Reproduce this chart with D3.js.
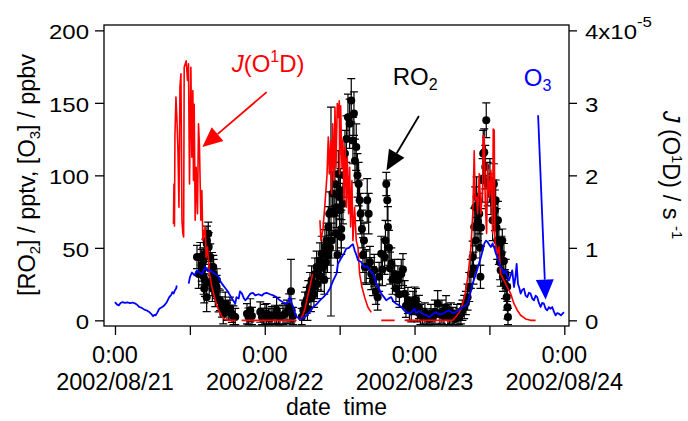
<!DOCTYPE html>
<html>
<head>
<meta charset="utf-8">
<script src="https://cdn.jsdelivr.net/npm/d3@7"></script>
<style>
  body { margin: 0; background: #fff; }
  svg { display: block; font-family: "Liberation Sans", Arial, sans-serif; }
</style>
</head>
<body>
<div id="chart"></div>
<script>
// all times are hours after 2002/08/21 0:00
// O3 in ppbv, NaN marks a gap in the record
const o3 = [
  [0.0,12.6],[0.3,11.0],[0.6,10.3],[0.9,12.0],[1.2,12.6],[1.6,12.0],[2.0,12.4],[2.4,11.9],[2.8,12.3],[3.3,11.5],
  [3.6,10.5],[3.9,9.2],[4.3,8.6],[4.7,7.4],[5.1,6.8],[5.5,5.7],[5.8,4.5],[6.1,2.8],[6.3,3.8],[6.5,3.4],
  [6.8,5.5],[7.1,8.0],[7.5,9.0],[7.9,10.3],[8.3,12.5],[8.7,16.0],[9.0,17.5],[9.2,19.5],[9.4,18.5],[9.6,20.7],
  [9.8,22.0],[9.9,24.0],[10.8,NaN],
  [11.81,25.3],[12.02,30],[12.34,33],[12.74,31],[13.14,34.5],[13.54,33],[13.94,32],[14.26,35],[14.47,36.8],[14.82,34],
  [15.27,34.5],[15.70,33],[16.07,32],[16.61,30],[16.90,27],[17.14,25.3],[17.54,23],[17.94,20.7],[18.34,18],[18.74,15],
  [19.27,11.5],[19.47,16],[19.82,15],[20.03,20],[20.35,18.4],[20.67,15],[20.87,13.8],[21.15,15],[21.68,18.4],[22.11,19],
  [22.48,17.2],[22.99,18],[23.55,17],[23.87,18.5],[24.30,19],[24.83,18],[25.36,17.2],[25.87,16],[26.43,13.8],[26.92,12.5],
  [27.51,11.5],[27.80,13],[28.04,16],[28.28,12],[28.57,9.2],[28.84,5],[29.11,2.3],[29.48,1.5],[29.91,1.2],[30.28,2],
  [30.71,3.4],[31.24,6],[31.77,9.2],[32.28,11],[32.84,13.8],[33.40,16],[33.92,18.4],[34.45,22],[34.97,27.6],[35.49,32],
  [35.73,39],[36.26,43],[36.69,46],[37.06,49.4],[37.49,50],[37.86,51.7],[38.13,52.5],[38.40,48.3],[38.69,45],[38.93,41.4],
  [39.46,40.2],[39.73,38],[40.00,36.8],[40.37,37.5],[40.81,34.5],[41.33,32.2],[41.66,29],[41.87,25.3],[42.30,22],[42.66,18.4],
  [43.10,16],[43.47,13.8],[43.82,15],[44.27,16],[44.62,13],[45.07,11.5],[45.50,10.5],[45.87,9.2],[46.30,7],[46.67,5.7],
  [47.21,4.6],[47.58,6],[48.01,8],[48.22,5],[48.70,6.5],[49.30,4.6],[49.83,3.5],[50.36,2.3],[50.87,4],[51.45,5.7],
  [51.93,4],[52.52,4.6],[53.05,6],[53.58,6.9],[54.09,5],[54.66,5.7],[55.22,7.5],[55.73,9.2],[56.26,10.3],[56.50,12],
  [56.76,16],[57.03,20],[57.31,25.3],[57.60,29],[57.84,32.2],[58.24,38],[58.64,43.7],[58.91,48],[59.17,52.9],[59.44,55],
  [59.71,54],[60.00,52],[60.24,50.6],[60.51,53],[60.77,50],[61.04,46],[61.25,43.7],[61.52,40],[61.80,36.8],[62.09,35],
  [62.32,32.2],[62.60,34.5],[62.89,30],[63.12,27.6],[63.40,31],[63.66,34.5],[63.93,23],[64.17,30],[64.36,39],[64.57,25.3],
  [64.81,22],[65.00,18.4],[65.26,21],[65.53,21.9],[65.80,17],[66.06,16],[66.33,19],[66.60,18.4],[66.86,15],[67.13,13.8],
  [67.40,17],[67.66,16],[67.93,12],[68.20,9.2],[68.46,12],[68.73,11.5],[69.00,8],[69.26,6.9],[69.53,9],[69.80,8],
  [70.06,9.2],[70.33,6],[70.60,3.4],[70.86,5],[71.13,4.6],[71.45,3.5],[71.69,4.5],[71.93,5.7]
]

// J(O1D) in units of 1e-5 s-1
const jo1d = [
  [9.37,1.33],[9.45,1.88],[9.53,1.30],[9.61,2.55],[9.77,3.08],[9.93,2.76],[10.09,2.34],[10.25,1.56],[10.41,3.22],[10.57,3.40],
  [10.73,1.38],[10.87,1.20],[11.00,1.15],[11.09,3.49],[11.41,3.58],[11.62,3.31],[11.78,3.54],[11.94,1.88],[12.16,3.49],[12.32,2.25],
  [12.48,3.17],[12.58,1.93],[12.69,2.98],[12.85,1.38],[13.01,2.11],[13.22,1.47],[13.38,2.71],[13.54,2.39],[13.76,1.38],[13.92,1.79],
  [14.08,1.10],[14.29,1.20],[14.45,1.29],[14.61,0.87],[14.82,1.01],[15.14,0.64],[15.53,0.46],[16.07,0.28],[16.61,0.14],[17.14,0.05],
  [17.68,0.01],[18.40,0],[19.40,0],[19.90,NaN],[20.30,0],[23.0,0],[26.0,0],[29.10,0],[29.40,NaN],[29.64,0],
  [30.17,0.09],[30.44,0.16],[30.97,0.37],[31.32,0.50],[31.67,0.64],[32.20,NaN],[32.84,1.38],[33.00,1.10],[33.32,1.25],[33.64,1.6],
  [33.97,2.0],[34.18,2.53],[34.34,2.02],[34.56,2.48],[34.72,1.75],[34.88,2.71],[35.09,1.93],[35.25,2.94],[35.41,2.11],[35.62,2.99],
  [35.78,2.80],[35.94,3.03],[36.00,2.02],[36.16,2.96],[36.37,2.11],[36.53,2.48],[36.69,1.66],[36.90,2.39],[37.06,1.56],[37.22,2.25],
  [37.44,1.47],[37.60,2.11],[37.76,1.29],[37.97,1.93],[38.13,1.10],[38.40,1.56],[38.66,1.10],[38.93,1.01],[39.20,0.64],[39.57,0.46],
  [40.00,0.32],[40.53,0.18],[41.06,0.11],[41.80,NaN],[42.66,0],[44.81,0],[45.50,NaN],[46.41,0],[50.0,0],[54.10,0],
  [54.63,0.05],[55.16,0.11],[55.60,0.20],[56.07,0.35],[56.55,0.60],[57.03,1.00],[57.35,1.50],[57.56,2.34],[57.72,1.66],[57.95,1.70],
  [58.11,1.47],[58.37,2.02],[58.64,1.47],[58.91,1.84],[59.00,2.55],[59.17,2.53],[59.33,1.66],[59.55,1.20],[59.71,2.16],[59.97,1.70],
  [60.24,2.07],[60.51,1.20],[60.61,2.64],[60.77,2.62],[60.88,1.10],[61.25,0.92],[61.52,1.01],[61.80,0.64],[62.32,0.55],[62.85,0.46],
  [63.40,0.37],[63.93,0.23],[64.46,0.14],[65.00,0.07],[65.80,0.02],[66.60,0],[67.40,0]
]

// RO2 in pptv: [hour, value, error]
const ro2 = [
  [13.14,43.7,8],[13.41,32,10],[13.67,43.7,10],[13.89,38,11],[13.94,34.5,10],[14.15,41,9],[14.21,30,12],[14.30,22,10],[14.42,27.6,11],[14.47,46,10],
  [14.69,16,10],[14.70,52.9,9],[14.74,55,10],[14.95,59.8,8],[15.01,50.6,10],[15.10,26,9],[15.27,43.7,9],[15.54,36.8,10],[15.60,22,9],[15.75,36.8,8],
  [15.81,32,10],[16.07,18.4,9],[16.29,23,8],[16.34,27.6,8],[16.61,13.8,8],[16.82,13.8,7],[17.14,9.2,7],[17.35,4.6,7],[17.67,11.5,8],[17.94,6,6],
  [18.22,6.9,7],[18.42,8,8],[18.74,4.6,6],[18.98,3,7],[19.27,2.3,6],[21.15,4.6,7],[21.39,2.5,6],[21.68,6.9,8],[21.95,3,6],[23.28,5.7,7],
  [23.55,2.3,6],[23.76,2.3,6],[24.03,4,7],[24.30,4.6,7],[24.59,2,6],[24.83,1.2,7],[25.15,3.5,6],[25.63,3.4,7],[25.90,6.9,9],[26.19,3,7],
  [26.43,2.3,6],[26.92,3.5,7],[27.24,4.6,7],[27.56,6,8],[27.92,9.2,9],[28.20,20,22],[28.31,6.9,8],[28.52,3,6],
  [29.91,2.3,6],[30.17,6.9,7],[30.44,11.5,8],[30.71,13.8,9],[30.84,8,8],[30.97,18.4,9],[31.24,23,10],[31.40,15,9],[31.51,27.6,10],[31.77,23,10],
  [31.88,18,9],[32.04,32,11],[32.31,36.8,11],[32.44,25,10],[32.57,32,11],[32.84,41.4,12],[33.00,30,10],[33.12,46,12],[33.38,36.8,11],[33.54,28,10],
  [33.64,50.6,12],[33.80,40,11],[33.92,55,12],[34.05,45,12],[34.18,64.4,14],[34.34,73.6,15],[34.45,50,12],[34.61,75,72],[34.72,55,12],[34.88,87.4,15],
  [35.09,73.6,14],[35.25,94,15],[35.41,60,12],[35.52,78,14],[35.65,45,12],[35.78,101,16],[35.94,85,15],[36.00,75.9,14],[36.13,89.7,15],[36.26,63,13],
  [36.27,57.5,12],[36.53,80.5,14],[36.69,100,15],[36.85,115,16],[37.09,125,16],[37.33,140,16],[37.60,135.6,17],[37.86,151.7,15],[38.13,124,16],[38.29,142.6,15],
  [38.45,110,15],[38.66,119.5,16],[38.85,100,15],[39.04,94,15],[39.20,82.8,14],[39.36,73.6,14],[39.57,63,13],[39.73,45,12],[39.89,55,12],[40.05,36.8,11],
  [40.26,36.8,12],[40.42,82.8,15],[40.65,73.6,14],[40.85,40,11],[41.06,32.2,11],[41.33,27,10],[41.55,34.5,11],[41.81,20,9],[42.09,16,9],[42.33,30,10],
  [42.66,46,12],[42.85,35,11],[43.21,43.7,12],[43.34,55,14],[43.47,94,8],[43.63,82.8,14],[43.74,64.4,14],[43.90,50,12],[44.06,36,11],[44.27,39,11],
  [44.46,28,10],[44.81,32,10],[45.02,22,9],[45.34,27.6,10],[45.58,18,9],[45.87,32,10],[46.14,35,11],[46.41,18.4,9],[46.62,10,8],[46.94,13.8,9],
  [47.18,8,8],[47.47,7,8],[47.75,12,8],[48.01,14,9],[48.22,14,8],[48.46,6,7],[48.70,9.2,8],[48.94,4,7],[49.30,2.3,6],[49.66,5,7],
  [49.98,2,6],[50.36,1,6],[50.63,4,7],[50.95,2,6],[51.27,6,8],[51.71,11.5,9],[52.07,4,7],[52.39,6,8],[52.71,3,7],[53.05,9,8],
  [53.35,4,7],[53.58,2.3,6],[53.83,5,7],[54.15,3,6],[54.47,1,6],[54.79,4,7],[55.11,2,6],[55.43,4.6,7],[55.67,7,7],[55.96,9.2,8],
  [56.23,12,8],[56.50,16,9],[56.76,23,10],[57.03,32,10],[57.31,43.7,11],[57.44,36,11],[57.56,64.4,13],[57.72,78,14],[57.83,55,12],[57.95,85,14],
  [58.16,68,13],[58.37,73.6,14],[58.48,50,12],[58.56,30,8],[58.64,64,13],[58.91,96.6,15],[59.00,115,16],[59.17,116,16],[59.33,105.7,15],[59.49,138,12],
  [59.71,94,15],[60.08,96.6,15],[60.24,87,14],[60.51,69,14],[60.61,82.8,14],[60.72,94,14],[60.88,75.9,14],[61.00,82.8,14],[61.13,64,13],[61.25,55,13],
  [61.36,69,13],[61.52,50.6,12],[61.68,40,12],[61.80,34.5,11],[61.93,46,12],[62.06,55,8],[62.17,30,10],[62.32,41,12],[62.48,25,10],[62.60,32,10],
  [62.76,16,9],[62.85,23,10],[62.89,9,8],[62.97,2.3,6]
]

const leftTicks = [0, 50, 100, 150, 200]
const rightTicks = [0, 1, 2, 3, 4]
const xTickHours = [0, 12, 24, 36, 48, 60, 72]
const dayHours = [0, 24, 48, 72]

// annotation anchors in data units: [hour, left-axis value]
const notes = [
  {label: "J", sub: null, sup: "1", color: "red", text: [18.7, 171.4], from: [24.3, 157.4], to: [14.0, 119.5]},
  {label: "RO", sub: "2", color: "black", text: [44.5, 162], from: [48.7, 140.9], to: [43.5, 103.4]},
  {label: "O", sub: "3", color: "blue", text: [65.5, 161.7], from: [67.8, 141.4], to: [69.0, 14.3]}
]

const width = 688
const height = 421
const marginTop = 25
const marginRight = 119
const marginBottom = 95
const marginLeft = 104

const t0 = new Date(2002, 7, 21)
const toDate = h => new Date(t0.getTime() + h * 3600e3)

const x = d3.scaleTime([toDate(-1.76), toDate(72.75)], [marginLeft, width - marginRight])
const yL = d3.scaleLinear([-3.9, 203.7], [height - marginBottom, marginTop])
const yR = d3.scaleLinear([-0.078, 4.074], [height - marginBottom, marginTop])

const svg = d3.select("#chart").append("svg")
    .attr("width", width)
    .attr("height", height)
    .attr("viewBox", [0, 0, width, height])

svg.append("rect").attr("width", width).attr("height", height).attr("fill", "#fff")

svg.append("clipPath").attr("id", "plot")
  .append("rect")
    .attr("x", marginLeft).attr("y", marginTop)
    .attr("width", width - marginLeft - marginRight)
    .attr("height", height - marginTop - marginBottom)

const plot = svg.append("g").attr("clip-path", "url(#plot)")

// RO2 error bars + markers
const eb = plot.append("g").attr("stroke", "#000").attr("stroke-width", 1.2).attr("fill", "none")
eb.selectAll("path")
  .data(ro2)
  .join("path")
    .attr("d", d => {
      const cx = x(toDate(d[0])), y1 = yL(d[1] + d[2]), y2 = yL(Math.max(d[1] - d[2], -3))
      return `M${cx},${y1}V${y2}M${cx - 4},${y1}H${cx + 4}M${cx - 4},${y2}H${cx + 4}`
    })

plot.append("g")
  .selectAll("circle")
  .data(ro2)
  .join("circle")
    .attr("cx", d => x(toDate(d[0])))
    .attr("cy", d => yL(d[1]))
    .attr("r", 4)
    .attr("fill", "#000")

// J(O1D)
const jLine = d3.line()
    .defined(d => !isNaN(d[1]))
    .x(d => x(toDate(d[0])))
    .y(d => yR(d[1]))
plot.append("path")
    .attr("d", jLine(jo1d))
    .attr("fill", "none")
    .attr("stroke", "#ff0000")
    .attr("stroke-width", 1.6)
    .attr("stroke-linejoin", "round")

// O3
const o3Line = d3.line()
    .defined(d => !isNaN(d[1]))
    .x(d => x(toDate(d[0])))
    .y(d => yL(d[1]))
plot.append("path")
    .attr("d", o3Line(o3))
    .attr("fill", "none")
    .attr("stroke", "#0000ff")
    .attr("stroke-width", 1.8)
    .attr("stroke-linejoin", "round")

// frame
svg.append("rect")
    .attr("x", marginLeft).attr("y", marginTop)
    .attr("width", width - marginLeft - marginRight)
    .attr("height", height - marginTop - marginBottom)
    .attr("fill", "none")
    .attr("stroke", "#000")
    .attr("stroke-width", 1.3)

// axes (tick marks only, labels drawn below)
svg.append("g")
    .attr("transform", `translate(0,${height - marginBottom})`)
    .call(d3.axisBottom(x).tickValues(xTickHours.map(toDate)).tickSize(9).tickFormat(""))
    .call(g => g.select(".domain").remove())
    .call(g => g.selectAll(".tick line").attr("stroke-width", 1.3))

svg.append("g")
    .attr("transform", `translate(${marginLeft},0)`)
    .call(d3.axisLeft(yL).tickValues(leftTicks).tickSize(9).tickFormat(""))
    .call(g => g.select(".domain").remove())
    .call(g => g.selectAll(".tick line").attr("stroke-width", 1.3))

svg.append("g")
    .attr("transform", `translate(${width - marginRight},0)`)
    .call(d3.axisRight(yR).tickValues(rightTicks).tickSize(8).tickFormat(""))
    .call(g => g.select(".domain").remove())
    .call(g => g.selectAll(".tick line").attr("stroke-width", 1.3))

// tick labels
const fmtDay = d3.timeFormat("%Y/%m/%d")
const xl = svg.append("g").attr("font-size", 23.5).attr("text-anchor", "middle").attr("fill", "#000")
dayHours.forEach(h => {
  xl.append("text").attr("x", x(toDate(h))).attr("y", 363).text("0:00")
  xl.append("text").attr("x", x(toDate(h))).attr("y", 390).text(fmtDay(toDate(h)))
})

leftTicks.forEach(v => {
  svg.append("text")
      .attr("transform", `translate(${marginLeft - 15},${yL(v) + 9}) scale(1.2,1)`)
      .attr("text-anchor", "end")
      .attr("font-size", 20)
      .text(v)
})

rightTicks.forEach(v => {
  const t = svg.append("text")
      .attr("transform", `translate(${width - marginRight + 16},${yR(v) + 9}) scale(1.2,1)`)
      .attr("font-size", 20)
  if (v === 4) {
    t.append("tspan").text("4x10")
    t.append("tspan").attr("font-size", 14).attr("dy", -12).text("-5")
  } else {
    t.text(v)
  }
})

// axis titles
const lt = svg.append("text")
    .attr("transform", "translate(35,175) rotate(-90)")
    .attr("text-anchor", "middle")
    .attr("font-size", 23.5)
lt.append("tspan").text("[RO")
lt.append("tspan").attr("font-size", 15).attr("dy", 5).text("2")
lt.append("tspan").attr("dy", -5).text("] / pptv, [O")
lt.append("tspan").attr("font-size", 15).attr("dy", 5).text("3")
lt.append("tspan").attr("dy", -5).text("] / ppbv")

const rt = svg.append("text")
    .attr("transform", "translate(663,175) rotate(90)")
    .attr("text-anchor", "middle")
    .attr("font-size", 23.5)
    .style("white-space", "pre")
rt.append("tspan").attr("font-style", "italic").text("J")
rt.append("tspan").text(" (O")
rt.append("tspan").attr("font-size", 15).attr("dy", -9).text("1")
rt.append("tspan").attr("dy", 9).text("D) / s ")
rt.append("tspan").attr("font-size", 15).attr("dy", -9).text("-1")

svg.append("text")
    .attr("x", 336.5)
    .attr("y", 415)
    .attr("text-anchor", "middle")
    .attr("font-size", 23)
    .style("white-space", "pre")
    .text("date  time")

// annotations with arrows
notes.forEach(n => {
  const t = svg.append("text")
      .attr("x", x(toDate(n.text[0])))
      .attr("y", yL(n.text[1]))
      .attr("font-size", 24)
      .attr("fill", n.color)
  if (n.sup) {
    t.append("tspan").attr("font-style", "italic").text("J")
    t.append("tspan").text("(O")
    t.append("tspan").attr("font-size", 16).attr("dy", -10).text(n.sup)
    t.append("tspan").attr("dy", 10).text("D)")
  } else {
    t.append("tspan").text(n.label)
    t.append("tspan").attr("font-size", 16).attr("dy", 5).text(n.sub)
  }

  const x1 = x(toDate(n.from[0])), y1 = yL(n.from[1])
  const x2 = x(toDate(n.to[0])), y2 = yL(n.to[1])
  const a = Math.atan2(y2 - y1, x2 - x1)
  const hl = 20, hw = 9
  const bx = x2 - hl * Math.cos(a), by = y2 - hl * Math.sin(a)
  svg.append("line")
      .attr("x1", x1).attr("y1", y1).attr("x2", bx).attr("y2", by)
      .attr("stroke", n.color).attr("stroke-width", 1.8)
  svg.append("path")
      .attr("d", `M${x2},${y2}L${bx + hw * Math.sin(a)},${by - hw * Math.cos(a)}L${bx - hw * Math.sin(a)},${by + hw * Math.cos(a)}Z`)
      .attr("fill", n.color)
})
</script>
</body>
</html>
